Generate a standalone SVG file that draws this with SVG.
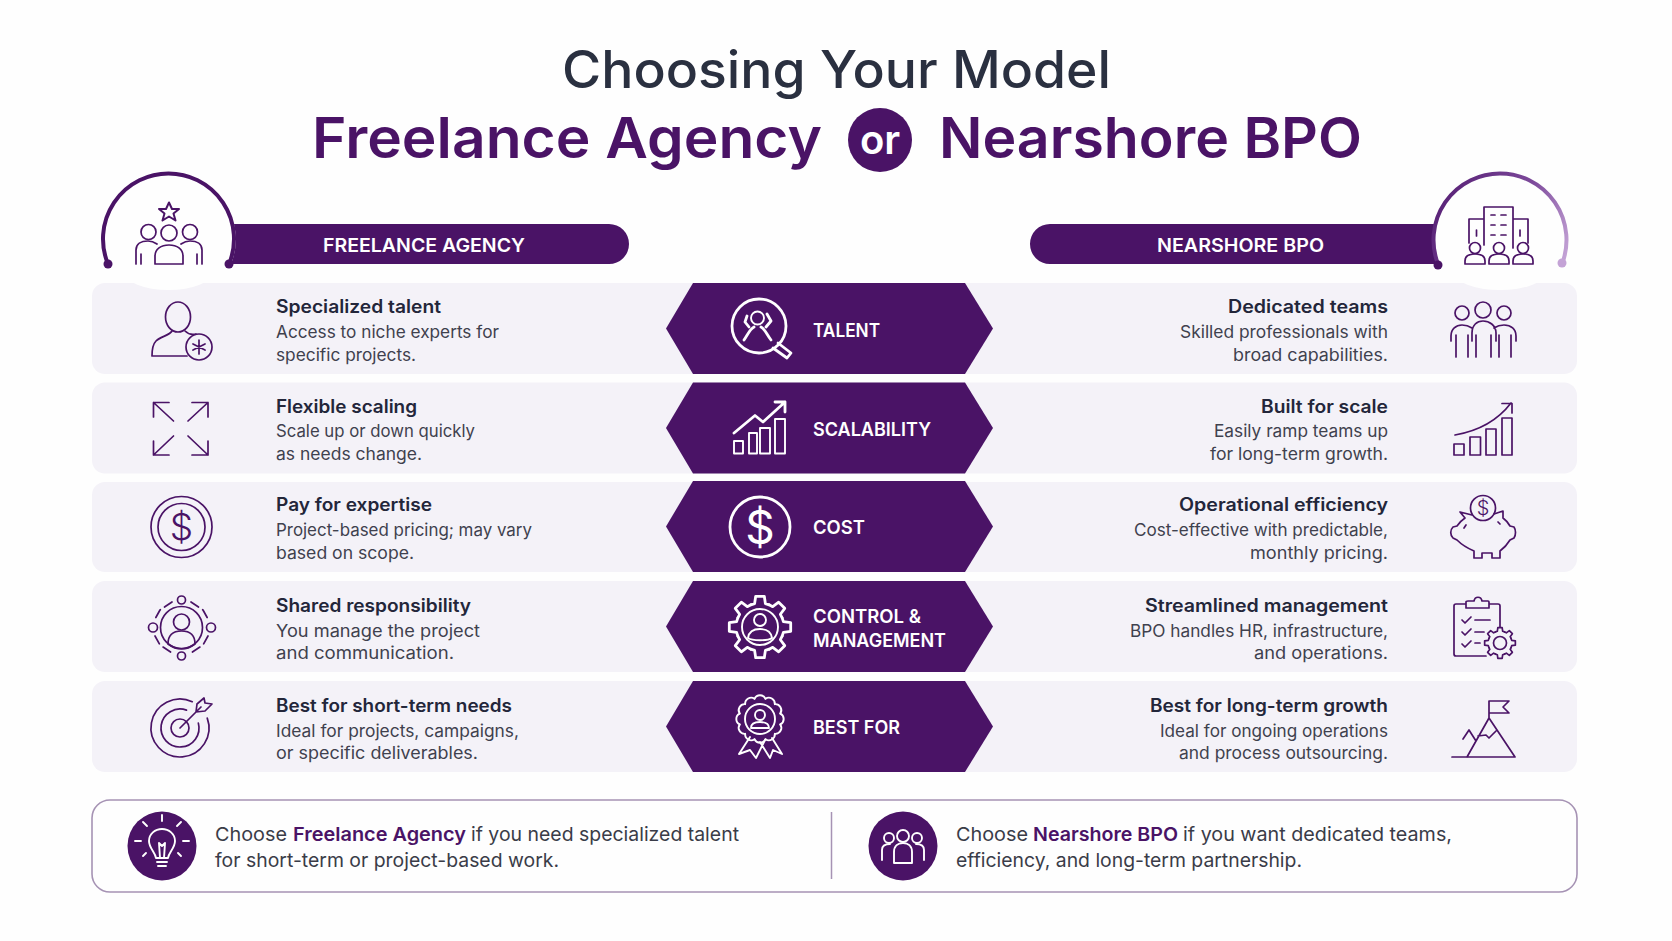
<svg xmlns="http://www.w3.org/2000/svg" xmlns:xlink="http://www.w3.org/1999/xlink" width="1672" height="941" viewBox="0 0 1672 941">
<style>
text{font-family:"Inter","Liberation Sans",sans-serif}
.title{font-size:52px;font-weight:500;fill:#2a3040}
.sub{font-size:56px;font-weight:600;fill:#4a1366}
.bar{font-size:19px;font-weight:600;fill:#fff}
.h{font-size:18px;font-weight:600;fill:#23263a}
.b{font-size:17px;font-weight:400;fill:#3f414e}
.hl{font-size:19px;font-weight:600;fill:#fff}
.foot{font-size:19px;font-weight:400;fill:#3a3c48}
.em{font-weight:600;fill:#4a1366}
.r{text-anchor:end}
.row{fill:#f4f2f8}
.hex{fill:#4a1366}
.ic{fill:none;stroke:#4a1366;stroke-width:1.7;stroke-linecap:round;stroke-linejoin:round}
.iw{fill:none;stroke:#fff;stroke-width:2.8;stroke-linecap:round;stroke-linejoin:round}
.iw2{fill:none;stroke:#fff;stroke-width:1.9;stroke-linecap:round;stroke-linejoin:round}
.d{font-weight:300;text-anchor:middle}
</style>
<defs>
<linearGradient id="arcFade" gradientUnits="userSpaceOnUse" x1="1440" y1="200" x2="1565" y2="260">
<stop offset="0" stop-color="#5a2378"/><stop offset="0.55" stop-color="#7d4a9b"/><stop offset="1" stop-color="#c4a3d6"/>
</linearGradient>
<path id="tooth" d="M-9.18-22.17L-5.4-23.38L-4.31-30.7H4.31L5.4-23.38L9.18-22.17"/>
<g id="gear">
<use xlink:href="#tooth"/><use xlink:href="#tooth" transform="rotate(45)"/><use xlink:href="#tooth" transform="rotate(90)"/><use xlink:href="#tooth" transform="rotate(135)"/><use xlink:href="#tooth" transform="rotate(180)"/><use xlink:href="#tooth" transform="rotate(225)"/><use xlink:href="#tooth" transform="rotate(270)"/><use xlink:href="#tooth" transform="rotate(315)"/>
</g>
<path id="scallop" d="M-5.4-20.3A6 6 0 0 1 5.4-20.3"/>
<g id="rosette">
<use xlink:href="#scallop"/><use xlink:href="#scallop" transform="rotate(30)"/><use xlink:href="#scallop" transform="rotate(60)"/><use xlink:href="#scallop" transform="rotate(90)"/><use xlink:href="#scallop" transform="rotate(120)"/><use xlink:href="#scallop" transform="rotate(150)"/><use xlink:href="#scallop" transform="rotate(180)"/><use xlink:href="#scallop" transform="rotate(210)"/><use xlink:href="#scallop" transform="rotate(240)"/><use xlink:href="#scallop" transform="rotate(270)"/><use xlink:href="#scallop" transform="rotate(300)"/><use xlink:href="#scallop" transform="rotate(330)"/>
</g>
</defs>
<rect width="1672" height="941" fill="#fefefe"/>

<g id="title">
<text class="title" x="562" y="88" textLength="549" lengthAdjust="spacingAndGlyphs">Choosing Your Model</text>
<text class="sub" x="312" y="158" textLength="510" lengthAdjust="spacingAndGlyphs">Freelance Agency</text>
<circle cx="880" cy="140" r="32" fill="#4a1366"/>
<text x="880" y="154" text-anchor="middle" font-size="40" font-weight="600" fill="#fff">or</text>
<text class="sub" x="939" y="158" textLength="423" lengthAdjust="spacingAndGlyphs">Nearshore BPO</text>
</g>

<g id="rows">
<rect class="row" x="92" y="283" width="1485" height="91" rx="13"/>
<rect class="row" x="92" y="382.500" width="1485" height="91" rx="13"/>
<rect class="row" x="92" y="482" width="1485" height="90" rx="13"/>
<rect class="row" x="92" y="581" width="1485" height="91" rx="13"/>
<rect class="row" x="92" y="681" width="1485" height="91" rx="13"/>
</g>

<g id="header-freelance">
<path fill="#4a1366" d="M609 224A20 20 0 0 1 609 264H231A67 67 0 0 0 234 224Z"/>
<ellipse cx="168.500" cy="272" rx="44" ry="18" fill="#fefefe"/>
<path fill="none" stroke="#4a1366" stroke-width="4" d="M108 264A65.500 65.500 0 1 1 229 264"/>
<circle cx="108" cy="264" r="4.500" fill="#4a1366"/>
<circle cx="229" cy="264" r="4.500" fill="#4a1366"/>
<text class="bar" x="323" y="252" textLength="202" lengthAdjust="spacingAndGlyphs">FREELANCE AGENCY</text>
<path class="ic" d="M169 202.500L172 209H179L173.500 213.500L175.500 220.500L169 216.500L162.500 220.500L164.500 213.500L159 209H166Z" style="stroke-width:2"/>
<circle class="ic" cx="169" cy="233" r="8"/>
<circle class="ic" cx="148.500" cy="232" r="7.500"/>
<circle class="ic" cx="190" cy="232" r="7.500"/>
<path class="ic" d="M155 264V256C155 249 161 245 169 245C177 245 183 249 183 256V264M155 264H183M136 264V250C136 244 141 241 148 241C151 241 154 242 157 244M202 264V250C202 244 197 241 190 241C187 241 184 242 181 244M141 254V264M197 254V264"/>
</g>

<g id="header-nearshore">
<path fill="#4a1366" d="M1050 224H1435A67 67 0 0 0 1438 264H1050A20 20 0 0 1 1050 224Z"/>
<ellipse cx="1500" cy="272" rx="46" ry="18" fill="#fefefe"/>
<path fill="none" stroke="url(#arcFade)" stroke-width="4" d="M1438 264A66.500 66.500 0 1 1 1562 264"/>
<circle cx="1438" cy="265" r="4.500" fill="#4a1366"/>
<circle cx="1562" cy="263" r="4.500" fill="#c4a3d6"/>
<text class="bar" x="1157" y="252" textLength="167" lengthAdjust="spacingAndGlyphs">NEARSHORE BPO</text>
<path class="ic" d="M1484 245V207H1513V248M1484 219H1469V243M1513 219H1528V243"/>
<path class="ic" d="M1491 215H1495M1501 215H1506M1491 225H1495M1501 225H1506M1491 235H1495M1501 235H1506M1476.500 230V236M1520 230V236"/>
<circle class="ic" cx="1475" cy="248" r="5.500"/>
<circle class="ic" cx="1499" cy="248" r="5.500"/>
<circle class="ic" cx="1523" cy="248" r="5.500"/>
<path class="ic" d="M1465 264V261C1465 256 1469 254 1475 254C1481 254 1485 256 1485 261V264ZM1489 264V261C1489 256 1493 254 1499 254C1505 254 1509 256 1509 261V264ZM1513 264V261C1513 256 1517 254 1523 254C1529 254 1533 256 1533 261V264Z"/>
</g>

<g id="row-talent">
<g id="talent-left">
<ellipse class="ic" cx="178" cy="317" rx="12.500" ry="15"/>
<path class="ic" d="M172 331C170 335 160 337 156 341C153 344 152 349 152 356H187M185 331C188 334 192 335 196 334"/>
<circle class="ic" cx="199" cy="347" r="13"/>
<path class="ic" d="M199 340V354M193 344L205 350M205 344L193 350"/>
<text class="h" x="276" y="313" textLength="165" lengthAdjust="spacingAndGlyphs">Specialized talent</text>
<text class="b" x="276" y="338" textLength="223" lengthAdjust="spacingAndGlyphs">Access to niche experts for</text>
<text class="b" x="276" y="361" textLength="140" lengthAdjust="spacingAndGlyphs">specific projects.</text>
</g>
<g id="talent-center">
<polygon class="hex" points="666,328.500 693,283 965,283 993,328.500 965,374 693,374"/>
<circle class="iw" cx="759" cy="326" r="27"/>
<path class="iw" d="M773 348L787 358L791 353L778 343"/>
<circle class="iw2" cx="757.500" cy="318" r="6.500"/>
<path class="iw" d="M744 340C748 334 750 329 754 327M771 340C767 335 765 329 761 327M747 316L745 322L749 327M767 314L771 321L766 327"/>
<text class="hl" x="813" y="337" textLength="67" lengthAdjust="spacingAndGlyphs">TALENT</text>
</g>
<g id="talent-right">
<text class="h r" x="1388" y="313" textLength="160" lengthAdjust="spacingAndGlyphs">Dedicated teams</text>
<text class="b r" x="1388" y="338" textLength="208" lengthAdjust="spacingAndGlyphs">Skilled professionals with</text>
<text class="b r" x="1388" y="361" textLength="155" lengthAdjust="spacingAndGlyphs">broad capabilities.</text>
<circle class="ic" cx="1462" cy="313" r="7"/>
<circle class="ic" cx="1483" cy="310" r="8"/>
<circle class="ic" cx="1504" cy="313" r="7"/>
<path class="ic" d="M1451 341V336C1451 329 1456 325 1462 325C1466 325 1469 326 1472 328M1516 341V336C1516 329 1511 325 1504 325C1500 325 1497 326 1494 328M1472 341V333C1472 325 1477 321 1483 321C1489 321 1496 325 1496 333V341M1456 335V357M1468 335V357M1476 335V357M1491 335V357M1499 335V357M1511 335V357"/>
</g>
</g>

<g id="row-scalability">
<g id="scalability-left">
<path class="ic" d="M169 402.500H153.500V417M153.500 402.500L173.500 421M192 402.500H208V417M208 402.500L188 421M169 455H153.500V441M153.500 455L173.500 436M192 455H208V441M208 455L188 436"/>
<text class="h" x="276" y="413" textLength="141" lengthAdjust="spacingAndGlyphs">Flexible scaling</text>
<text class="b" x="276" y="437" textLength="199" lengthAdjust="spacingAndGlyphs">Scale up or down quickly</text>
<text class="b" x="276" y="460" textLength="146" lengthAdjust="spacingAndGlyphs">as needs change.</text>
</g>
<g id="scalability-center">
<polygon class="hex" points="666,428 693,382.500 965,382.500 993,428 965,473.500 693,473.500"/>
<path class="iw2" d="M734 441H743V453.500H734ZM749 433H757V453.500H749ZM760 428H770V453.500H760ZM775 419H785V453.500H775Z"/>
<path class="iw" d="M734 433L755 415.500L763 422L785 402M775 402H785V412"/>
<text class="hl" x="813" y="436" textLength="118" lengthAdjust="spacingAndGlyphs">SCALABILITY</text>
</g>
<g id="scalability-right">
<text class="h r" x="1388" y="413" textLength="127" lengthAdjust="spacingAndGlyphs">Built for scale</text>
<text class="b r" x="1388" y="437" textLength="174" lengthAdjust="spacingAndGlyphs">Easily ramp teams up</text>
<text class="b r" x="1388" y="460" textLength="178" lengthAdjust="spacingAndGlyphs">for long-term growth.</text>
<path class="ic" d="M1454 444H1464V455H1454ZM1470 437H1480.500V455H1470ZM1486 429H1496V455H1486ZM1502 418H1512V455H1502Z"/>
<path class="ic" d="M1455 435C1478 431 1498 420 1511 403M1502 403.500H1512V413"/>
</g>
</g>

<g id="row-cost">
<g id="cost-left">
<circle class="ic" cx="181.500" cy="527" r="30.500"/>
<circle class="ic" cx="181.500" cy="527" r="23.500"/>
<text class="d" x="181.500" y="540" font-size="37" fill="#4a1366">$</text>
<text class="h" x="276" y="511" textLength="156" lengthAdjust="spacingAndGlyphs">Pay for expertise</text>
<text class="b" x="276" y="536" textLength="256" lengthAdjust="spacingAndGlyphs">Project-based pricing; may vary</text>
<text class="b" x="276" y="559" textLength="138" lengthAdjust="spacingAndGlyphs">based on scope.</text>
</g>
<g id="cost-center">
<polygon class="hex" points="666,526.500 693,481 965,481 993,526.500 965,572 693,572"/>
<circle class="iw" cx="760" cy="527" r="30"/>
<text class="d" x="760" y="544" font-size="46" fill="#fff" style="font-weight:400">$</text>
<text class="hl" x="813" y="534" textLength="52" lengthAdjust="spacingAndGlyphs">COST</text>
</g>
<g id="cost-right">
<text class="h r" x="1388" y="511" textLength="209" lengthAdjust="spacingAndGlyphs">Operational efficiency</text>
<text class="b r" x="1388" y="536" textLength="254" lengthAdjust="spacingAndGlyphs">Cost-effective with predictable,</text>
<text class="b r" x="1388" y="559" textLength="138" lengthAdjust="spacingAndGlyphs">monthly pricing.</text>
<circle class="ic" cx="1483" cy="508" r="12.500"/>
<text class="d" x="1483" y="515" font-size="20" fill="#4a1366">$</text>
<path class="ic" d="M1494 514L1503 511L1503 518C1507 521 1509 524 1510 526L1514 527C1516 530 1516 535 1514 538L1510 540C1507 545 1504 548 1500 551V558H1492V553H1482V558H1474V551C1467 548 1461 544 1457 540L1453 538C1450 535 1450 530 1453 527L1457 526C1459 523 1462 520 1465 518L1460 512L1472 515M1464 528L1466 525M1498 522L1500 524"/>
</g>
</g>

<g id="row-control">
<g id="control-left">
<circle class="ic" cx="181.500" cy="627.500" r="21"/>
<circle class="ic" cx="181.500" cy="622" r="8"/>
<path class="ic" d="M168 644C168 635 173 631 181.500 631C190 631 195 635 195 644C191 647 186 649 181.500 649C177 649 172 647 168 644Z"/>
<circle class="ic" cx="181.500" cy="600" r="4"/>
<circle class="ic" cx="181.500" cy="656" r="4"/>
<circle class="ic" cx="153" cy="627.500" r="4.500"/>
<circle class="ic" cx="211" cy="627.500" r="4.500"/>
<path class="ic" d="M172 602L160 610L155 619M191 602L203 610L208 619M155 636L160 645L172 653M208 636L203 645L191 653" stroke-dasharray="9 5"/>
<text class="h" x="276" y="612" textLength="195" lengthAdjust="spacingAndGlyphs">Shared responsibility</text>
<text class="b" x="276" y="637" textLength="204" lengthAdjust="spacingAndGlyphs">You manage the project</text>
<text class="b" x="276" y="659" textLength="178" lengthAdjust="spacingAndGlyphs">and communication.</text>
</g>
<g id="control-center">
<polygon class="hex" points="666,626.500 693,581 965,581 993,626.500 965,672 693,672"/>
<use class="iw" xlink:href="#gear" transform="translate(760 627)"/>
<circle class="iw2" cx="760" cy="627" r="18"/>
<circle class="iw2" cx="760" cy="620" r="6"/>
<path class="iw2" d="M748 638C749 631 754 629 760 629C766 629 771 631 772 638C768 641 752 641 748 638Z"/>
<text class="hl" x="813" y="623" textLength="108" lengthAdjust="spacingAndGlyphs">CONTROL &amp;</text>
<text class="hl" x="813" y="647" textLength="133" lengthAdjust="spacingAndGlyphs">MANAGEMENT</text>
</g>
<g id="control-right">
<text class="h r" x="1388" y="612" textLength="243" lengthAdjust="spacingAndGlyphs">Streamlined management</text>
<text class="b r" x="1388" y="637" textLength="258" lengthAdjust="spacingAndGlyphs">BPO handles HR, infrastructure,</text>
<text class="b r" x="1388" y="659" textLength="134" lengthAdjust="spacingAndGlyphs">and operations.</text>
<path class="ic" d="M1466 604H1456A2 2 0 0 0 1454 606V654A2 2 0 0 0 1456 656H1486M1489 604H1498A2 2 0 0 1 1500 606V627M1466 608V602C1466 601 1467 601 1468 601H1474C1475 596 1481 596 1482 601H1488C1489 601 1489 602 1489 602V608ZM1462 620L1465 623L1471 617M1462 632L1465 635L1471 629M1462 644L1465 647L1471 641M1475 620H1490M1475 632H1484M1475 643H1480"/>
<use class="ic" xlink:href="#gear" transform="translate(1500 643) scale(.5)" style="stroke-width:3.400px"/>
<circle class="ic" cx="1500" cy="643" r="6.500"/>
</g>
</g>

<g id="row-best">
<g id="best-left">
<path class="ic" d="M207.250 718.100A29 29 0 1 1 192.260 701.700"/>
<path class="ic" d="M198.350 723.100A19 19 0 1 1 186.500 710.150"/>
<circle class="ic" cx="180" cy="728" r="9"/>
<path class="ic" d="M180 728L201 707M196 712L197 704L204 698L205 703L212 704L205 711L196 712"/>
<text class="h" x="276" y="712" textLength="236" lengthAdjust="spacingAndGlyphs">Best for short-term needs</text>
<text class="b" x="276" y="737" textLength="243" lengthAdjust="spacingAndGlyphs">Ideal for projects, campaigns,</text>
<text class="b" x="276" y="759" textLength="202" lengthAdjust="spacingAndGlyphs">or specific deliverables.</text>
</g>
<g id="best-center">
<polygon class="hex" points="666,726.500 693,681 965,681 993,726.500 965,772 693,772"/>
<use class="iw2" xlink:href="#rosette" transform="translate(760 719)"/>
<circle class="iw2" cx="760" cy="719" r="15"/>
<circle class="iw2" cx="760" cy="715" r="5"/>
<path class="iw2" d="M751 728C751 723 755 722 760 722C765 722 769 723 769 728Z"/>
<path class="iw2" d="M750 737L739 754L750 750L756 758L765 740M760 742L770 758L773 750L782 754L772 738"/>
<text class="hl" x="813" y="734" textLength="87" lengthAdjust="spacingAndGlyphs">BEST FOR</text>
</g>
<g id="best-right">
<text class="h r" x="1388" y="712" textLength="238" lengthAdjust="spacingAndGlyphs">Best for long-term growth</text>
<text class="b r" x="1388" y="737" textLength="228" lengthAdjust="spacingAndGlyphs">Ideal for ongoing operations</text>
<text class="b r" x="1388" y="759" textLength="209" lengthAdjust="spacingAndGlyphs">and process outsourcing.</text>
<path class="ic" d="M1452 757H1515L1489 718L1467 757M1463 739L1469 730L1476 741M1478 736L1486 735L1489 738L1496 731M1489 718V701H1509L1503 707L1509 713H1489"/>
</g>
</g>

<g id="recommendation">
<rect x="92" y="800" width="1485" height="92" rx="18" fill="#fefefe" stroke="#a693b4" stroke-width="1.600"/>
<line x1="831.500" y1="812" x2="831.500" y2="879" stroke="#a693b4" stroke-width="1.500"/>
<g id="choose-freelance">
<circle cx="162" cy="846" r="34.500" fill="#4a1366"/>
<path class="iw2" d="M156 858C155 852 149 848 149 841C149 834 155 829 162 829C169 829 175 834 175 841C175 848 169 852 168 858ZM157 862H167M158 866H166M160 858L159 843M164 858L165 843M159 843L162 846L165 843"/>
<path class="iw2" d="M162 821V815M147 826L143 822M177 826L181 822M141 841H135M183 841H189M146 853L143 856M178 853L181 856"/>
<text class="foot" y="841"><tspan x="215" textLength="72" lengthAdjust="spacingAndGlyphs">Choose</tspan> <tspan class="em" x="293" textLength="173" lengthAdjust="spacingAndGlyphs">Freelance Agency</tspan> <tspan x="471" textLength="268" lengthAdjust="spacingAndGlyphs">if you need specialized talent</tspan></text>
<text class="foot" x="215" y="867" textLength="344" lengthAdjust="spacingAndGlyphs">for short-term or project-based work.</text>
</g>
<g id="choose-nearshore">
<circle cx="903" cy="846" r="34.500" fill="#4a1366"/>
<circle class="iw2" cx="903" cy="836" r="6"/>
<circle class="iw2" cx="889" cy="838" r="5"/>
<circle class="iw2" cx="917" cy="838" r="5"/>
<path class="iw2" d="M894 863V852C894 846 898 843 903 843C908 843 912 846 912 852V863ZM882 860V850C882 846 885 844 890 844M924 860V850C924 846 921 844 916 844"/>
<text class="foot" y="841"><tspan x="956" textLength="72" lengthAdjust="spacingAndGlyphs">Choose</tspan> <tspan class="em" x="1033" textLength="145" lengthAdjust="spacingAndGlyphs">Nearshore BPO</tspan> <tspan x="1183" textLength="269" lengthAdjust="spacingAndGlyphs">if you want dedicated teams,</tspan></text>
<text class="foot" x="956" y="867" textLength="346" lengthAdjust="spacingAndGlyphs">efficiency, and long-term partnership.</text>
</g>
</g>
</svg>
